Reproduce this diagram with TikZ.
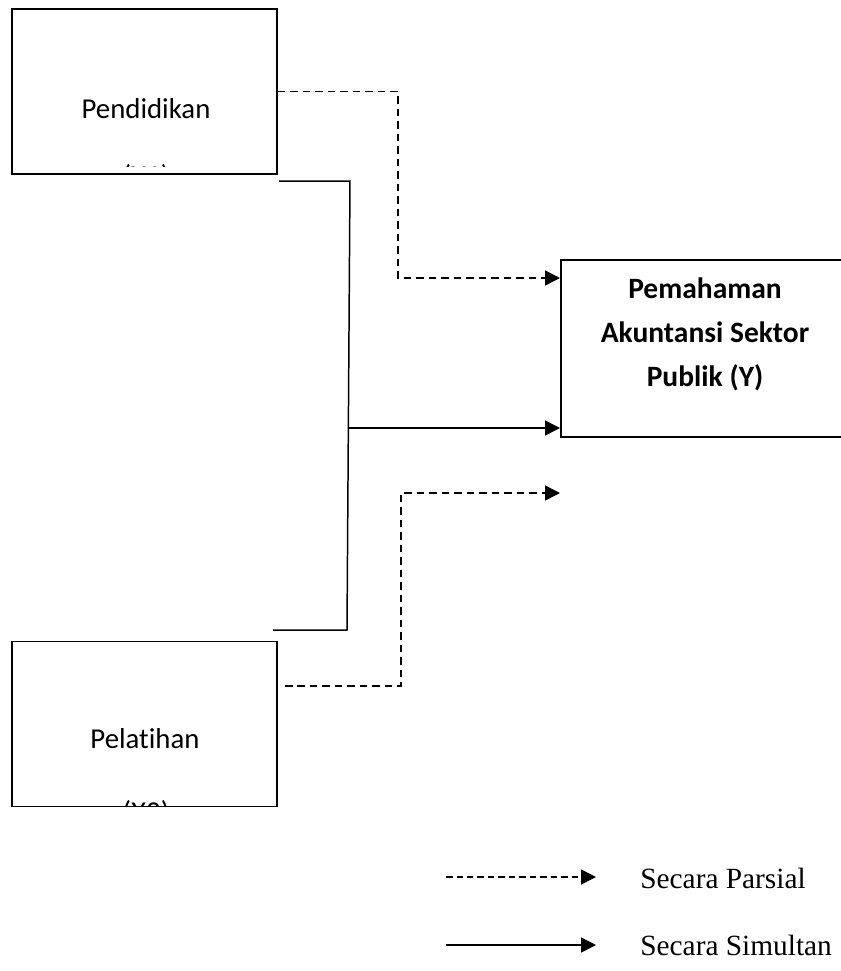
\documentclass[tikz,border=0pt]{standalone}
\usepackage{fontspec}
\setmainfont{Carlito}[Ligatures=NoCommon]
\newfontfamily\legendfont{Liberation Serif}
\usetikzlibrary{arrows.meta, positioning}

\begin{document}
\begin{tikzpicture}[
    x=0.02cm, y=-0.02cm,
    var/.style={
        rectangle,
        draw,
        line width=1.1pt,
        minimum width=5.3cm,
        minimum height=3.3cm,
        inner sep=0pt
    },
    yvar/.style={
        rectangle,
        draw,
        line width=1.1pt,
        minimum width=5.8cm,
        minimum height=3.54cm,
        inner sep=0pt
    },
    vartext/.style={
        font=\fontsize{16.4}{19}\selectfont,
        anchor=base
    },
    ytext/.style={
        font=\fontsize{16.8}{25}\selectfont\bfseries,
        align=center
    },
    legendtext/.style={
        font=\legendfont\fontsize{16.7}{20}\selectfont,
        anchor=base west,
        inner sep=0pt
    },
    arrow/.style={
        -{Triangle[length=0.3cm, width=0.3cm]},
        line width=0.85pt
    },
    partial/.style={
        arrow,
        dash pattern=on 0.15cm off 0.1cm
    },
    simul/.style={
        line width=0.85pt
    }
]
    \clip (0,0) rectangle (841,971);

    % variabel X1, X2 dan Y
    \node (X1) [var] at (144.5,91.5) {};
    \node (X2) [var] at (144.5,724) {};
    \node (Y) [yvar, anchor=north west] at (560,259) {};

    \node (X1text) [vartext] at (146,118) {Pendidikan};
    \node (X2text) [vartext] at (145,748) {Pelatihan};
    \begin{scope}
        \clip (X1.north west) rectangle (277,166);
        \node (X1lab) [vartext] at (146,185) {(X1)};
    \end{scope}
    \begin{scope}
        \clip (X2.north west) rectangle (277,806);
        \node (X2lab) [vartext] at (146,821) {(X2)};
    \end{scope}
    \node (Ytext) [ytext] at (705,334) {Pemahaman\\Akuntansi Sektor\\Publik (Y)};

    % titik ujung garis
    \coordinate (inP1) at (560,278);
    \coordinate (inS) at (560,428);
    \coordinate (inP2) at (560,493);
    \coordinate (outS1) at (279,181);
    \coordinate (outS2) at (273,630);
    \coordinate (outP2) at (285,686);

    % garis parsial
    \draw[partial] (X1.east) -| (398,278) -- (inP1);
    \draw[partial] (outP2) -| (401,493) -- (inP2);

    % garis simultan
    \draw[simul] (outS1) -- (350,181) -- (347,630) -- (outS2);
    \draw[arrow] (348.5,428) -- (inS);

    % keterangan
    \node (legP) [legendtext] at (640,888) {Secara Parsial};
    \node (legS) [legendtext] at (640,955) {Secara Simultan};
    \coordinate (legP1) at (446,877);
    \coordinate (legP2) at (596,877);
    \coordinate (legS1) at (446,945);
    \coordinate (legS2) at (596,945);
    \draw[arrow, dash pattern=on 0.13cm off 0.08cm] (legP1) -- (legP2);
    \draw[arrow] (legS1) -- (legS2);

\end{tikzpicture}
\end{document}
